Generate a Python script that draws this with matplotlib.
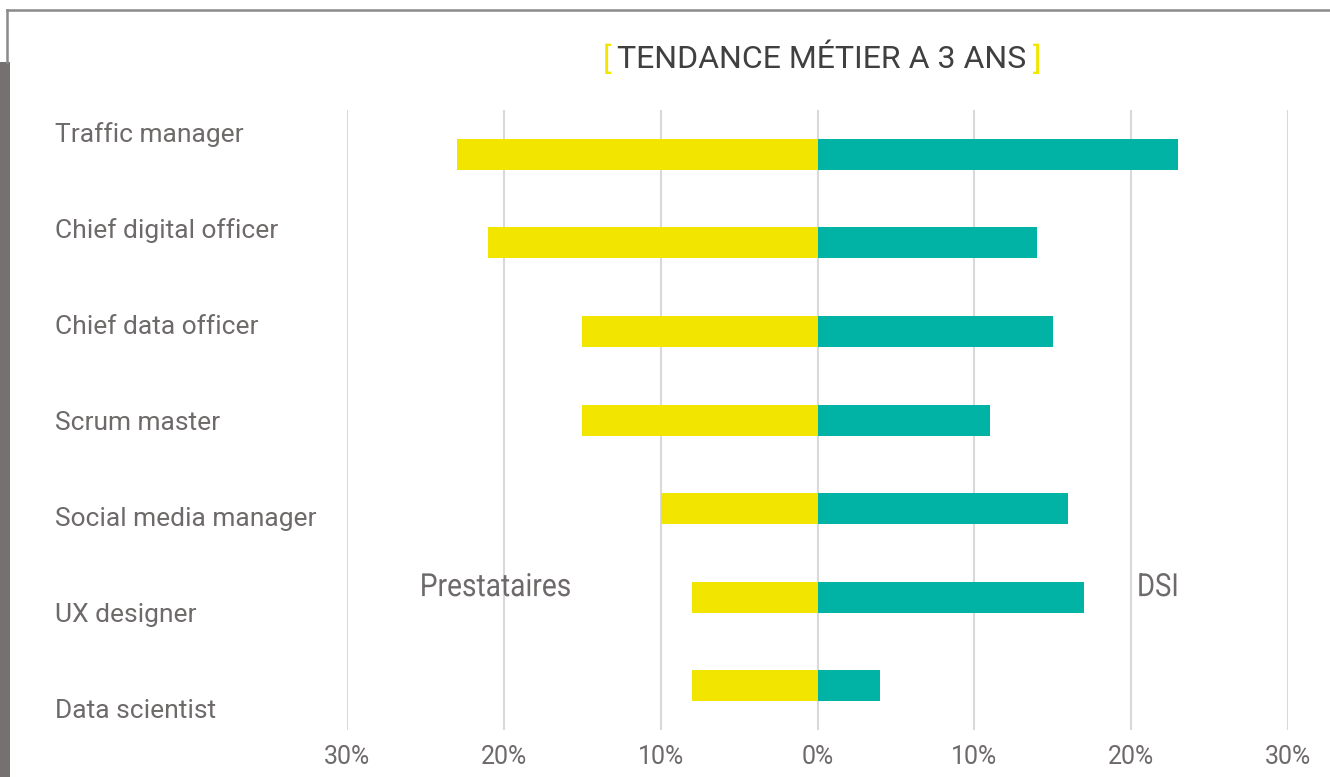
import numpy as np
import matplotlib
matplotlib.use('Agg')
import matplotlib.pyplot as plt
from matplotlib.patches import Rectangle, PathPatch
from matplotlib.lines import Line2D
from matplotlib.textpath import TextPath
from matplotlib.font_manager import FontProperties
from matplotlib.transforms import Affine2D

# Data (percent)
jobs = ['Traffic manager', 'Chief digital officer', 'Chief data officer', 'Scrum master',
        'Social media manager', 'UX designer', 'Data scientist']
prestataires = [23, 21, 15, 15, 10, 8, 8]
dsi = [23, 14, 15, 11, 16, 17, 4]
tick_values = [-30, -20, -10, 0, 10, 20, 30]

yellow = '#f2e600'
teal = '#00b3a4'
grey_txt = '#6e6a6a'

plt.rcParams['font.family'] = ['Roboto', 'DejaVu Sans']

W, H = 1330, 777
DPI = 100
fig = plt.figure(figsize=(W / DPI, H / DPI), dpi=DPI)

# main axes: x from 347 to 1288 px, y from 110 to 730 px
ax = fig.add_axes([347 / W, (H - 730) / H, (1288 - 347) / W, 620 / H])
y = np.arange(len(jobs))
ax.barh(y, [-v for v in prestataires], height=0.35, color=yellow, zorder=2)
ax.barh(y, dsi, height=0.35, color=teal, zorder=2)
ax.set_xlim(-30, 30)
ax.set_ylim(len(jobs) - 0.5, -0.5)
ax.set_xticks(tick_values)
ax.set_xticklabels([f'{abs(v)}%' for v in tick_values])
ax.set_yticks([])
ax.tick_params(axis='x', length=0, pad=11, labelsize=18, labelcolor=grey_txt)
ax.grid(axis='x', color='#d9d9d9', linewidth=1.5, zorder=0)
ax.set_axisbelow(True)
for s in ax.spines.values():
    s.set_visible(False)


# no condensed font installed, so squeeze a text path horizontally
def narrow_text(ax, x, y, s, size, squeeze, color):
    tp = TextPath((0, 0), s, size=size, prop=FontProperties(family='Roboto'))
    bb = tp.get_extents()
    cx, cy = (bb.x0 + bb.x1) / 2, (bb.y0 + bb.y1) / 2
    px, py = ax.transData.transform((x, y))
    k = DPI / 72
    tr = Affine2D().translate(-cx, -cy).scale(k * squeeze, k).translate(px, py)
    ax.add_artist(PathPatch(tp, transform=tr, facecolor=color, edgecolor='none', zorder=3))


narrow_text(ax, -20.5, 4.86, 'Prestataires', 23, 0.88, grey_txt)
narrow_text(ax, 21.7, 4.86, 'DSI', 23, 0.86, grey_txt)

# category labels sit in their own column with a different spacing
lab = fig.add_axes([0, (H - 759) / H, 0.25, (759 - 87) / H])
lab.set_xlim(0, 1)
lab.set_ylim(len(jobs) - 0.5, -0.5)
lab.axis('off')
for i, name in enumerate(jobs):
    lab.text(55 / (0.25 * W), i, name, ha='left', va='center', fontsize=19, color=grey_txt)

# title
ty = 1 - 60 / H
fig.text(822 / W, ty, 'TENDANCE MÉTIER A 3 ANS', ha='center', va='center',
         fontsize=23, color='#404040')
fig.text(611 / W, ty, '[', ha='right', va='center', fontsize=23, color=yellow)
fig.text(1033 / W, ty, ']', ha='left', va='center', fontsize=23, color=yellow)

# frame decorations
fig.add_artist(Line2D([7 / W, 1], [1 - 10 / H, 1 - 10 / H], color='#8a8a8a', linewidth=1.8))
fig.add_artist(Line2D([7 / W, 7 / W], [1 - 10 / H, 1 - 62 / H], color='#8a8a8a', linewidth=1.8))
fig.add_artist(Rectangle((0, 0), 10 / W, 1 - 62 / H, transform=fig.transFigure,
                         color='#757170', linewidth=0))

fig.savefig('out.png', dpi=DPI)
